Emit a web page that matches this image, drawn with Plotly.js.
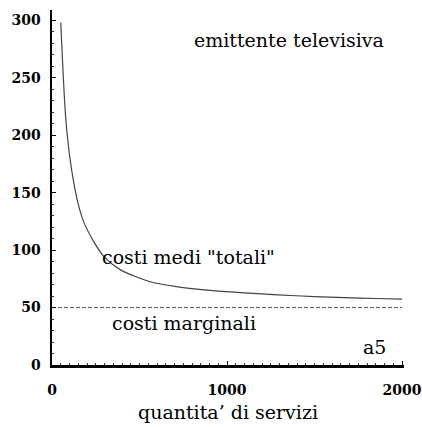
<!DOCTYPE html>
<html>
<head>
<meta charset="utf-8">
<script src="https://cdn.plot.ly/plotly-3.0.1.min.js"></script>
<style>html,body{margin:0;padding:0;background:#fff;}#chart{width:422px;height:427px;}</style>
</head>
<body>
<div id="chart"></div>
<script>
var quantita = [50, 60, 70, 80, 100, 125, 150, 180, 236, 293, 389, 560, 700, 903, 1100, 1291, 1500, 1669, 1850, 2000];
var costiMedi = [298, 265, 235, 212, 183, 158, 140, 125, 108, 95, 83, 72.5, 68.5, 65, 62.8, 61, 59.6, 58.6, 57.9, 57.4];
var margQ = [0, 2000];
var costiMarginali = [50, 50];
var xTicks = [0, 1000, 2000];
var yTicks = [0, 50, 100, 150, 200, 250, 300];

var serif = "DejaVu Serif, Liberation Serif, serif";

var traces = [
  {x: quantita, y: costiMedi, mode: 'lines', line: {color: '#444', width: 1.2, shape: 'spline', smoothing: 0.8}, hoverinfo: 'skip'},
  {x: margQ, y: costiMarginali, mode: 'lines', line: {color: '#555', width: 1, dash: '4px,2px'}, hoverinfo: 'skip'}
];

var layout = {
  width: 422, height: 427,
  margin: {l: 52, r: 18, t: 10, b: 62},
  paper_bgcolor: '#fff', plot_bgcolor: '#fff',
  showlegend: false,
  xaxis: {
    range: [0, 2011], tickvals: xTicks, ticktext: xTicks.map(String),
    showgrid: false, zeroline: false, showline: true, linecolor: '#000', linewidth: 2.5,
    ticks: 'inside', ticklen: 4, tickcolor: '#000', tickwidth: 1,
    minor: {dtick: 50, ticks: 'inside', ticklen: 2, tickcolor: '#333', tickwidth: 1},
    ticklabelstandoff: 11,
    tickfont: {family: serif, size: 14, color: '#000', weight: 'bold'},
    title: {text: 'quantita’ di servizi', font: {family: serif, size: 19, color: '#000'}, standoff: 9}
  },
  yaxis: {
    range: [0, 309], tickvals: yTicks, ticktext: yTicks.map(String),
    showgrid: false, zeroline: false, showline: true, linecolor: '#000', linewidth: 2.5,
    ticks: 'inside', ticklen: 4, tickcolor: '#000', tickwidth: 1,
    minor: {dtick: 10, ticks: 'inside', ticklen: 2, tickcolor: '#333', tickwidth: 1},
    ticklabelstandoff: 6,
    tickfont: {family: serif, size: 14, color: '#000', weight: 'bold'}
  },
  annotations: [
    {x: 1354, y: 283, xref: 'x', yref: 'y', text: 'emittente televisiva', showarrow: false, font: {family: serif, size: 19, color: '#000'}},
    {x: 274, y: 94, xref: 'x', yref: 'y', xanchor: 'left', text: 'costi medi "totali"', showarrow: false, font: {family: serif, size: 19, color: '#000'}},
    {x: 331, y: 36.5, xref: 'x', yref: 'y', xanchor: 'left', text: 'costi marginali', showarrow: false, font: {family: serif, size: 19, color: '#000'}},
    {x: 1920, y: 15.6, xref: 'x', yref: 'y', xanchor: 'right', text: 'a5', showarrow: false, font: {family: serif, size: 19, color: '#000'}}
  ]
};

Plotly.newPlot('chart', traces, layout, {displayModeBar: false, staticPlot: true});
</script>
</body>
</html>
